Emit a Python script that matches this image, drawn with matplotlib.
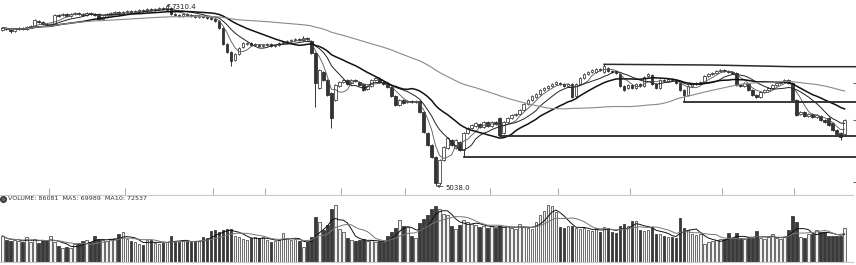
import matplotlib
matplotlib.use('Agg')
import matplotlib.pyplot as plt
import numpy as np
import pandas as pd

# daily candles (index points)
opens = [
    6997, 7022, 7009, 6984, 7009, 7022, 7009, 7034, 7047, 7109,
    7097, 7072, 7059, 7072, 7185, 7185, 7197, 7172, 7197, 7210,
    7197, 7185, 7210, 7197, 7197, 7135, 7160, 7197, 7210, 7222,
    7210, 7222, 7235, 7222, 7235, 7248, 7235, 7260, 7248, 7260,
    7273, 7248, 7273, 7197, 7185, 7172, 7197, 7185, 7172, 7160,
    7172, 7160, 7147, 7135, 7109, 7022, 6821, 6720, 6620, 6695,
    6783, 6821, 6833, 6808, 6808, 6796, 6808, 6821, 6796, 6808,
    6833, 6846, 6858, 6871, 6884, 6871, 6896, 6858, 6708, 6269,
    6469, 6369, 6206, 6118, 6293, 6344, 6369, 6331, 6369, 6344,
    6319, 6256, 6293, 6369, 6381, 6344, 6319, 6281, 6168, 6055,
    6118, 6093, 6105, 6093, 6105, 5967, 5704, 5553, 5403, 5076,
    5365, 5516, 5616, 5516, 5591, 5490, 5704, 5767, 5792, 5817,
    5779, 5842, 5792, 5842, 5892, 5704, 5842, 5892, 5930, 5942,
    5992, 6068, 6118, 6156, 6193, 6243, 6269, 6293, 6319, 6331,
    6319, 6293, 6319, 6168, 6319, 6394, 6444, 6469, 6469, 6507,
    6469, 6520, 6482, 6469, 6444, 6293, 6269, 6306, 6269, 6319,
    6293, 6419, 6432, 6319, 6269, 6369, 6356, 6381, 6369, 6331,
    6243, 6181, 6293, 6319, 6331, 6344, 6419, 6444, 6457, 6482,
    6494, 6482, 6469, 6457, 6306, 6293, 6319, 6243, 6181, 6156,
    6218, 6243, 6269, 6306, 6331, 6344, 6369, 6331, 6118, 5942,
    5967, 5917, 5942, 5905, 5917, 5867, 5892, 5829, 5741, 5704,
    5691,
]
closes = [
    7022, 7009, 6984, 7009, 7022, 7009, 7034, 7047, 7122, 7097,
    7072, 7059, 7072, 7185, 7178, 7197, 7172, 7197, 7210, 7197,
    7185, 7210, 7197, 7185, 7135, 7160, 7197, 7210, 7222, 7210,
    7222, 7235, 7222, 7235, 7248, 7235, 7260, 7248, 7260, 7273,
    7260, 7298, 7197, 7185, 7172, 7197, 7185, 7172, 7160, 7172,
    7160, 7147, 7135, 7109, 7022, 6821, 6720, 6607, 6695, 6771,
    6833, 6833, 6808, 6815, 6796, 6808, 6821, 6796, 6808, 6833,
    6846, 6858, 6871, 6884, 6871, 6896, 6884, 6708, 6331, 6494,
    6369, 6181, 5892, 6306, 6344, 6369, 6319, 6369, 6356, 6306,
    6243, 6293, 6369, 6394, 6344, 6319, 6281, 6168, 6055, 6118,
    6080, 6105, 6093, 6105, 5967, 5716, 5553, 5403, 5076, 5365,
    5528, 5641, 5553, 5616, 5490, 5704, 5767, 5804, 5829, 5779,
    5842, 5792, 5842, 5817, 5679, 5842, 5892, 5930, 5942, 5992,
    6068, 6118, 6168, 6193, 6243, 6269, 6293, 6319, 6344, 6319,
    6293, 6319, 6156, 6319, 6394, 6444, 6469, 6494, 6507, 6494,
    6545, 6482, 6469, 6457, 6293, 6243, 6306, 6269, 6319, 6293,
    6407, 6444, 6319, 6269, 6369, 6356, 6381, 6369, 6331, 6243,
    6181, 6293, 6319, 6331, 6344, 6419, 6444, 6457, 6482, 6494,
    6482, 6469, 6457, 6306, 6293, 6331, 6243, 6181, 6156, 6218,
    6243, 6269, 6306, 6331, 6344, 6369, 6331, 6118, 5930, 5967,
    5917, 5942, 5905, 5930, 5867, 5842, 5804, 5741, 5691, 5654,
    5867,
]
highs = [
    7040, 7035, 7020, 7025, 7035, 7035, 7050, 7060, 7140, 7120,
    7110, 7085, 7088, 7200, 7198, 7212, 7210, 7215, 7225, 7222,
    7210, 7225, 7222, 7210, 7212, 7175, 7212, 7225, 7238, 7235,
    7237, 7250, 7248, 7250, 7262, 7260, 7275, 7272, 7275, 7288,
    7285, 7310.4, 7285, 7210, 7198, 7212, 7210, 7198, 7186, 7186,
    7185, 7172, 7160, 7148, 7122, 7035, 6835, 6735, 6710, 6785,
    6850, 6848, 6845, 6828, 6820, 6822, 6835, 6835, 6820, 6848,
    6860, 6872, 6885, 6898, 6897, 6921, 6910, 6872, 6720, 6510,
    6485, 6382, 6220, 6320, 6360, 6383, 6382, 6384, 6382, 6358,
    6333, 6306, 6383, 6410, 6406, 6358, 6332, 6295, 6182, 6132,
    6132, 6118, 6118, 6120, 6118, 5980, 5718, 5566, 5416, 5380,
    5545, 5656, 5630, 5630, 5605, 5720, 5782, 5818, 5845, 5830,
    5856, 5856, 5857, 5856, 5905, 5858, 5906, 5944, 5956, 6006,
    6083, 6133, 6182, 6208, 6258, 6283, 6307, 6334, 6358, 6345,
    6333, 6333, 6332, 6334, 6408, 6458, 6483, 6508, 6522, 6520,
    6566, 6533, 6496, 6482, 6457, 6306, 6320, 6320, 6333, 6332,
    6421, 6458, 6445, 6332, 6383, 6382, 6395, 6394, 6382, 6345,
    6257, 6307, 6333, 6344, 6357, 6433, 6457, 6470, 6496, 6508,
    6507, 6496, 6482, 6470, 6320, 6344, 6332, 6257, 6195, 6232,
    6256, 6282, 6320, 6345, 6357, 6383, 6383, 6345, 6132, 5981,
    5980, 5956, 5955, 5944, 5930, 5880, 5905, 5843, 5755, 5717,
    5880,
]
lows = [
    6980, 6995, 6959, 6970, 6995, 6994, 6995, 7020, 7032, 7083,
    7058, 7045, 7045, 7058, 7165, 7172, 7158, 7160, 7184, 7184,
    7172, 7172, 7184, 7172, 7120, 7122, 7146, 7184, 7197, 7196,
    7197, 7209, 7208, 7209, 7222, 7221, 7222, 7235, 7235, 7247,
    7247, 7235, 7184, 7172, 7159, 7158, 7172, 7158, 7147, 7147,
    7147, 7134, 7121, 7095, 7008, 6806, 6705, 6545, 6605, 6680,
    6770, 6808, 6795, 6795, 6783, 6783, 6795, 6782, 6783, 6795,
    6820, 6833, 6845, 6858, 6858, 6858, 6871, 6695, 6030, 6255,
    6355, 6167, 5767, 6104, 6280, 6331, 6305, 6318, 6343, 6293,
    6230, 6243, 6280, 6356, 6331, 6305, 6268, 6155, 6042, 6042,
    6067, 6080, 6080, 6080, 5954, 5702, 5540, 5390, 5038.0, 5052,
    5352, 5503, 5540, 5503, 5477, 5403, 5690, 5754, 5779, 5766,
    5766, 5779, 5779, 5804, 5667, 5691, 5829, 5879, 5917, 5929,
    5979, 6055, 6105, 6143, 6180, 6230, 6256, 6280, 6306, 6306,
    6280, 6280, 6143, 6155, 6306, 6381, 6431, 6456, 6456, 6481,
    6456, 6469, 6456, 6444, 6280, 6230, 6256, 6256, 6256, 6280,
    6280, 6406, 6306, 6256, 6256, 6343, 6343, 6356, 6318, 6230,
    6093, 6168, 6280, 6306, 6318, 6331, 6406, 6431, 6444, 6469,
    6469, 6456, 6444, 6293, 6280, 6280, 6230, 6168, 6143, 6143,
    6205, 6230, 6256, 6293, 6318, 6331, 6318, 6105, 5917, 5929,
    5904, 5904, 5892, 5892, 5854, 5829, 5791, 5728, 5678, 5616,
    5678,
]
volumes = [
    66000, 55000, 52000, 56000, 54000, 50000, 64000, 50000, 58000, 48000,
    55000, 53000, 66000, 50000, 40000, 36000, 38000, 35000, 45000, 47000,
    52000, 55000, 50000, 66000, 58000, 55000, 52000, 57000, 60000, 70000,
    76000, 58000, 52000, 50000, 45000, 44000, 55000, 56000, 48000, 46000,
    47000, 50000, 66000, 52000, 50000, 54000, 52000, 50000, 53000, 52000,
    63000, 60000, 78000, 80000, 76000, 80000, 83000, 83000, 66000, 64000,
    58000, 56000, 60000, 63000, 60000, 62000, 55000, 50000, 52000, 55000,
    73000, 60000, 55000, 57000, 52000, 39000, 50000, 63000, 115000, 101000,
    80000, 94000, 133000, 143000, 84000, 75000, 60000, 55000, 54000, 56000,
    57000, 52000, 55000, 50000, 52000, 50000, 67000, 76000, 86000, 107000,
    90000, 88000, 65000, 60000, 98000, 110000, 120000, 133000, 141000, 133000,
    122000, 118000, 90000, 84000, 94000, 107000, 100000, 96000, 94000, 88000,
    92000, 86000, 90000, 85000, 92000, 88000, 90000, 86000, 84000, 95000,
    88000, 86000, 84000, 100000, 118000, 128000, 143000, 141000, 127000, 88000,
    86000, 90000, 92000, 85000, 84000, 86000, 80000, 78000, 85000, 76000,
    88000, 86000, 75000, 74000, 92000, 95000, 90000, 103000, 105000, 82000,
    78000, 80000, 89000, 72000, 70000, 66000, 64000, 62000, 60000, 112000,
    85000, 82000, 70000, 68000, 70000, 46000, 50000, 53000, 55000, 57000,
    58000, 73000, 60000, 73000, 60000, 58000, 62000, 60000, 78000, 60000,
    58000, 62000, 70000, 60000, 58000, 62000, 82000, 117000, 100000, 62000,
    60000, 70000, 72000, 82000, 76000, 75425, 66000, 65500, 66200, 66164,
    86081,
]
# first candle of each month
month_starts = [12, 31, 53, 66, 85, 101, 122, 139, 157, 180, 198]
# candles whose low starts a support line
support_idx = [115, 124, 170]
# resistance line drawn from the high of candle 150
resist_idx = [150, 177, 197]
resist_px = [6566, 6557, 6536]
right_ticks = [6330, 5870, 5090]

o = np.array(opens, float)
c = np.array(closes, float)
h = np.array(highs, float)
l = np.array(lows, float)
v = np.array(volumes, float)
assert len(o) == len(c) == len(h) == len(l) == len(v)
n = len(c)
x = np.arange(n)
up = c >= o

W, H = 856, 265
fig = plt.figure(figsize=(W / 100, H / 100), dpi=100)
ax = fig.add_axes([0, 70 / H, 853 / W, 195 / H])
axv = fig.add_axes([0, 3 / H, 853 / W, 66 / H])

xmin, xmax = -0.62, 212.1
dark = '#333333'

# candles
ax.vlines(x, l, h, color=dark, lw=0.7, zorder=2)
ax.bar(x, c - o, bottom=o, width=0.64,
       color=np.where(up, 'white', dark),
       edgecolor=np.where(up, '#444444', dark), linewidth=0.6, zorder=3)

# moving averages
cs = pd.Series(c)
ax.plot(x, cs.rolling(5, min_periods=1).mean(), color='#555555', lw=0.6, zorder=4)
ax.plot(x, cs.rolling(10, min_periods=1).mean(), color='#222222', lw=0.7, zorder=4)
ax.plot(x, cs.rolling(20, min_periods=1).mean(), color='#111111', lw=1.1, zorder=4)
ax.plot(x, cs.rolling(60, min_periods=1).mean(), color='#8a8a8a', lw=0.8, zorder=4)

# support / resistance lines
for i in support_idx:
    ax.plot([i, xmax + 2], [l[i], l[i]], color='#2a2a2a', lw=1.3, zorder=4, clip_on=False)
ax.plot(resist_idx + [xmax + 2], resist_px + [resist_px[-1]], color='#2a2a2a', lw=1.1,
        zorder=4, clip_on=False)

# high / low marks
ih = int(np.argmax(h))
il = int(np.argmin(l))
ax.annotate(f'{h[ih]:.1f}', xy=(ih, h[ih]), xytext=(5, -2), textcoords='offset pixels',
            fontsize=5, va='center', ha='left', color='#222222',
            arrowprops=dict(arrowstyle='->', lw=0.5, color='#222222', mutation_scale=4,
                            shrinkA=0, shrinkB=0))
ax.annotate(f'{l[il]:.1f}', xy=(il + 0.3, l[il]), xytext=(9, -2), textcoords='offset pixels',
            fontsize=5, va='center', ha='left', color='#222222',
            arrowprops=dict(arrowstyle='->', lw=0.5, color='#222222', mutation_scale=4,
                            shrinkA=0, shrinkB=0))

ax.set_xlim(xmin, xmax)
ax.set_ylim(4926, 7373)
for s in ['top', 'left', 'right']:
    ax.spines[s].set_visible(False)
ax.spines['bottom'].set_color('#c8c8c8')
ax.set_xticks([m - 0.5 for m in month_starts])
ax.tick_params(axis='x', direction='in', length=5, color='#b0b0b0', width=0.8, labelbottom=False)
ax.yaxis.tick_right()
ax.set_yticks(right_ticks)
ax.tick_params(axis='y', direction='out', length=3, color='#666666', width=0.8, labelright=False)

# volume panel
axv.bar(x, v, width=0.64,
        color=np.where(up, '#f2f2f2', '#3a3a3a'),
        edgecolor=np.where(up, '#555555', '#3a3a3a'), linewidth=0.6)
vs = pd.Series(v)
vma5 = vs.rolling(5, min_periods=1).mean()
vma10 = vs.rolling(10, min_periods=1).mean()
axv.plot(x, vma5, color='#111111', lw=0.7)
axv.plot(x, vma10, color='#777777', lw=0.7)
axv.set_xlim(xmin, xmax)
axv.set_ylim(0, 167000)
for s in ['top', 'left', 'right']:
    axv.spines[s].set_visible(False)
axv.spines['bottom'].set_color('#c8c8c8')
axv.set_xticks([])
axv.set_yticks([])

axv.plot([3 / 853], [0.955], marker='o', markersize=4, color='#666666',
         markeredgecolor='#333333', transform=axv.transAxes, clip_on=False)
axv.text(8 / 853, 0.955,
         f'VOLUME: {v[-1]:.0f}  MA5: {vma5.iloc[-1]:.0f}  MA10: {vma10.iloc[-1]:.0f}',
         transform=axv.transAxes, fontsize=4.6, va='center', ha='left', color='#333333')

fig.savefig('out.png', dpi=100)
